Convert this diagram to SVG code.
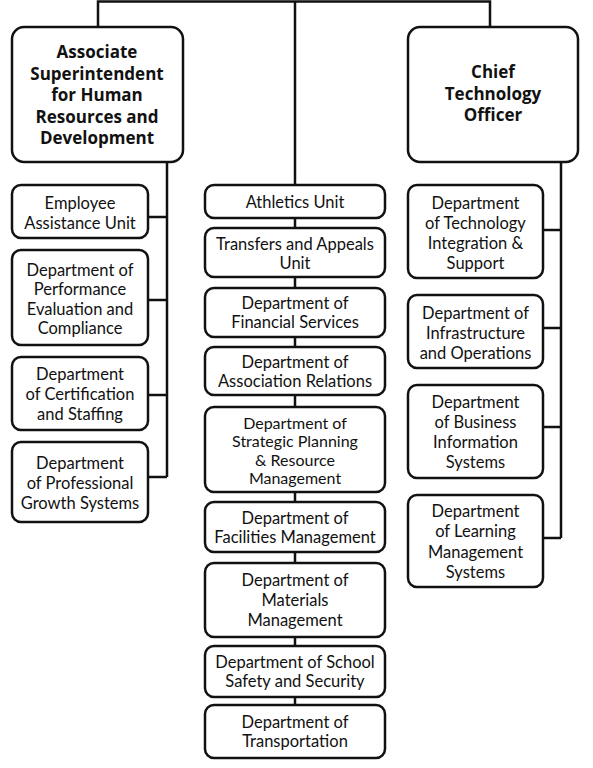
<svg xmlns="http://www.w3.org/2000/svg" width="593" height="768" viewBox="0 0 593 768">
<style>
.bg{fill:#ffffff}
.box{fill:#ffffff;stroke:#111111;stroke-width:2.5}
.ln{fill:none;stroke:#111111;stroke-width:2.5}
.t{font-family:Lato,"Liberation Sans",sans-serif;font-size:16.5px;fill:#111111;text-anchor:middle}
.s{font-size:16px}
.h{font-family:"Open Sans","Liberation Sans",sans-serif;font-size:17px;font-weight:bold;fill:#111111;text-anchor:middle}
</style>
<rect class="bg" x="0" y="0" width="593" height="768"/>
<g id="connectors">
<path class="ln" d="M98,28 V1.5 H490 V28"/>
<path class="ln" d="M295,1.5 V705"/>
<path class="ln" d="M167,162 V477 M148,217 H167 M148,300 H167 M148,395 H167 M148,477 H167"/>
<path class="ln" d="M561,162 V538 M543,230 H561 M543,328 H561 M543,427 H561 M543,538 H561"/>
</g>
<g id="hr-head">
<rect class="box" x="12" y="27" width="171" height="135" rx="12"/>
<text class="h" x="97" y="58">Associate</text>
<text class="h" x="97" y="79.5">Superintendent</text>
<text class="h" x="97" y="101">for Human</text>
<text class="h" x="97" y="122.5">Resources and</text>
<text class="h" x="97" y="144">Development</text>
</g>
<g id="cto-head">
<rect class="box" x="408" y="27" width="170" height="135" rx="12"/>
<text class="h" x="493" y="78">Chief</text>
<text class="h" x="493" y="99.5">Technology</text>
<text class="h" x="493" y="121">Officer</text>
</g>
<g id="employee-assistance">
<rect class="box" x="12" y="185" width="136" height="53" rx="9"/>
<text class="t" x="80" y="208.5">Employee</text>
<text class="t" x="80" y="228.5">Assistance Unit</text>
</g>
<g id="performance">
<rect class="box" x="12" y="250" width="136" height="95" rx="9"/>
<text class="t" x="80" y="275.5">Department of</text>
<text class="t" x="80" y="295">Performance</text>
<text class="t" x="80" y="314.5">Evaluation and</text>
<text class="t" x="80" y="334">Compliance</text>
</g>
<g id="certification">
<rect class="box" x="12" y="357" width="136" height="73" rx="9"/>
<text class="t" x="80" y="380">Department</text>
<text class="t" x="80" y="400">of Certification</text>
<text class="t" x="80" y="420">and Staffing</text>
</g>
<g id="professional-growth">
<rect class="box" x="12" y="442" width="136" height="80" rx="9"/>
<text class="t" x="80" y="468.5">Department</text>
<text class="t" x="80" y="488.5">of Professional</text>
<text class="t" x="80" y="508.5">Growth Systems</text>
</g>
<g id="athletics">
<rect class="box" x="205" y="185" width="180" height="33" rx="9"/>
<text class="t" x="295" y="207.5">Athletics Unit</text>
</g>
<g id="transfers">
<rect class="box" x="205" y="228" width="180" height="49" rx="9"/>
<text class="t" x="295" y="250">Transfers and Appeals</text>
<text class="t" x="295" y="268.5">Unit</text>
</g>
<g id="financial">
<rect class="box" x="205" y="288" width="180" height="49" rx="9"/>
<text class="t" x="295" y="309">Department of</text>
<text class="t" x="295" y="328">Financial Services</text>
</g>
<g id="association">
<rect class="box" x="205" y="347" width="180" height="48" rx="9"/>
<text class="t" x="295" y="367.5">Department of</text>
<text class="t" x="295" y="386.5">Association Relations</text>
</g>
<g id="strategic">
<rect class="box" x="205" y="407" width="180" height="85" rx="9"/>
<text class="t s" x="295" y="428.5">Department of</text>
<text class="t s" x="295" y="447">Strategic Planning</text>
<text class="t s" x="295" y="465.5">&amp; Resource</text>
<text class="t s" x="295" y="484">Management</text>
</g>
<g id="facilities">
<rect class="box" x="205" y="502" width="180" height="50" rx="9"/>
<text class="t" x="295" y="523.5">Department of</text>
<text class="t" x="295" y="542.5">Facilities Management</text>
</g>
<g id="materials">
<rect class="box" x="205" y="563" width="180" height="74" rx="9"/>
<text class="t" x="295" y="586">Department of</text>
<text class="t" x="295" y="606">Materials</text>
<text class="t" x="295" y="626">Management</text>
</g>
<g id="school-safety">
<rect class="box" x="205" y="646" width="180" height="51" rx="9"/>
<text class="t" x="295" y="668">Department of School</text>
<text class="t" x="295" y="687">Safety and Security</text>
</g>
<g id="transportation">
<rect class="box" x="205" y="705" width="180" height="53" rx="9"/>
<text class="t" x="295" y="728">Department of</text>
<text class="t" x="295" y="747">Transportation</text>
</g>
<g id="tech-integration">
<rect class="box" x="408" y="185" width="135" height="93" rx="9"/>
<text class="t" x="475.5" y="209">Department</text>
<text class="t" x="475.5" y="229">of Technology</text>
<text class="t" x="475.5" y="249">Integration &amp;</text>
<text class="t" x="475.5" y="269">Support</text>
</g>
<g id="infrastructure">
<rect class="box" x="408" y="295" width="135" height="73" rx="9"/>
<text class="t" x="475.5" y="319">Department of</text>
<text class="t" x="475.5" y="339">Infrastructure</text>
<text class="t" x="475.5" y="359">and Operations</text>
</g>
<g id="business-info">
<rect class="box" x="408" y="385" width="135" height="93" rx="9"/>
<text class="t" x="475.5" y="408">Department</text>
<text class="t" x="475.5" y="428">of Business</text>
<text class="t" x="475.5" y="448">Information</text>
<text class="t" x="475.5" y="468">Systems</text>
</g>
<g id="learning-mgmt">
<rect class="box" x="408" y="495" width="135" height="92" rx="9"/>
<text class="t" x="475.5" y="517">Department</text>
<text class="t" x="475.5" y="537">of Learning</text>
<text class="t" x="475.5" y="557.5">Management</text>
<text class="t" x="475.5" y="578">Systems</text>
</g>
</svg>
